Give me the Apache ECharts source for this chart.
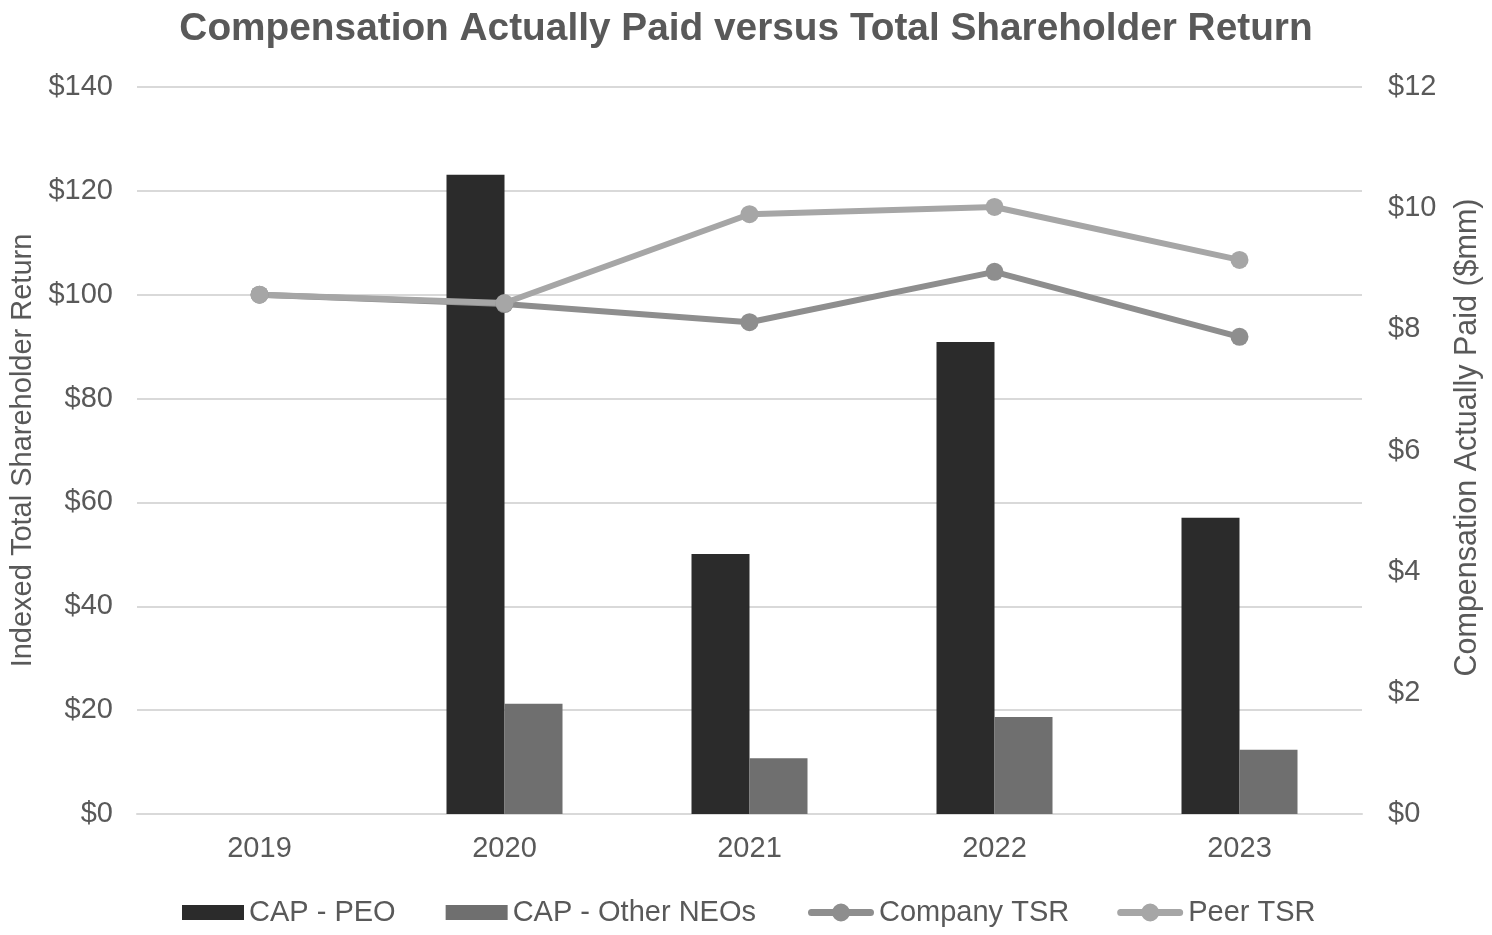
<!DOCTYPE html>
<html>
<head>
<meta charset="utf-8">
<script src="https://cdn.jsdelivr.net/npm/echarts@6/dist/echarts.min.js"></script>
<style>
html,body{margin:0;padding:0;background:#fff;}
#chart{width:1492px;height:935px;}
</style>
</head>
<body>
<div id="chart"></div>
<script>
const years = ['2019', '2020', '2021', '2022', '2023'];
const capPEO = [null, 10.55, 4.29, 7.79, 4.89];
const capOtherNEOs = [null, 1.82, 0.92, 1.60, 1.06];
const companyTSR = [100, 98.2, 94.7, 104.4, 91.9];
const peerTSR = [100, 98.4, 115.5, 116.9, 106.7];
const leftTicks = [0, 20, 40, 60, 80, 100, 120, 140];
const rightTicks = [0, 2, 4, 6, 8, 10, 12];

const textColor = '#595959';
const font = 'Liberation Sans, Arial, sans-serif';
const lineIcon = 'path://M3.5,5.5H62.5A3.5,3.5 0 0,1 62.5,12.5H3.5A3.5,3.5 0 0,1 3.5,5.5Z M42,9A9,9 0 1,1 24,9A9,9 0 1,1 42,9Z';

const chart = echarts.init(document.getElementById('chart'), null, {renderer: 'canvas'});
chart.setOption({
  backgroundColor: '#ffffff',
  animation: false,
  title: {
    text: 'Compensation Actually Paid versus Total Shareholder Return',
    left: 'center',
    top: 5,
    textStyle: {fontFamily: font, fontSize: 38.8, fontWeight: 'bold', color: textColor}
  },
  legend: [
    {
      left: 182,
      bottom: 8,
      padding: 0,
      itemGap: 50,
      itemWidth: 62,
      itemHeight: 15,
      icon: 'rect',
      textStyle: {fontFamily: font, fontSize: 29, color: textColor},
      data: ['CAP - PEO', 'CAP - Other NEOs']
    },
    {
      left: 808,
      bottom: 8,
      padding: 0,
      itemGap: 48,
      itemWidth: 66,
      itemHeight: 18,
      textStyle: {fontFamily: font, fontSize: 29, color: textColor},
      data: [
        {name: 'Company TSR', icon: lineIcon},
        {name: 'Peer TSR', icon: lineIcon}
      ]
    }
  ],
  grid: {left: 137, right: 130, top: 87, bottom: 121, containLabel: false},
  xAxis: {
    type: 'category',
    data: years,
    boundaryGap: true,
    axisLine: {show: true, lineStyle: {color: '#d9d9d9', width: 2}},
    axisTick: {show: false},
    axisLabel: {fontFamily: font, fontSize: 29, color: textColor, margin: 20}
  },
  yAxis: [
    {
      type: 'value',
      min: leftTicks[0],
      max: leftTicks[leftTicks.length - 1],
      interval: leftTicks[1] - leftTicks[0],
      name: 'Indexed Total Shareholder Return',
      nameLocation: 'middle',
      nameRotate: 90,
      nameGap: 95,
      nameTextStyle: {fontFamily: font, fontSize: 29, color: textColor},
      axisLine: {show: false},
      axisTick: {show: false},
      splitLine: {show: true, lineStyle: {color: '#d9d9d9', width: 2}},
      axisLabel: {fontFamily: font, fontSize: 29, color: textColor, margin: 24,
        formatter: v => '$' + v}
    },
    {
      type: 'value',
      min: rightTicks[0],
      max: rightTicks[rightTicks.length - 1],
      interval: rightTicks[1] - rightTicks[0],
      name: 'Compensation Actually Paid ($mm)',
      nameLocation: 'middle',
      nameRotate: 90,
      nameGap: 90,
      nameTextStyle: {fontFamily: font, fontSize: 30.5, color: textColor, padding: [0, 0, 0, 26]},
      axisLine: {show: false},
      axisTick: {show: false},
      splitLine: {show: false},
      axisLabel: {fontFamily: font, fontSize: 29, color: textColor, margin: 26,
        formatter: v => '$' + v}
    }
  ],
  series: [
    {
      name: 'CAP - PEO', type: 'bar', yAxisIndex: 1, data: capPEO,
      barWidth: 58, barGap: '0%',
      itemStyle: {color: '#2b2b2b'}
    },
    {
      name: 'CAP - Other NEOs', type: 'bar', yAxisIndex: 1, data: capOtherNEOs,
      barWidth: 58, barGap: '0%',
      itemStyle: {color: '#6f6f6f'}
    },
    {
      name: 'Company TSR', type: 'line', yAxisIndex: 0, data: companyTSR,
      symbol: 'circle', symbolSize: 18,
      lineStyle: {color: '#8e8e8e', width: 6},
      itemStyle: {color: '#8e8e8e'}
    },
    {
      name: 'Peer TSR', type: 'line', yAxisIndex: 0, data: peerTSR,
      symbol: 'circle', symbolSize: 18,
      lineStyle: {color: '#a6a6a6', width: 6},
      itemStyle: {color: '#a6a6a6'}
    }
  ]
});
</script>
</body>
</html>
